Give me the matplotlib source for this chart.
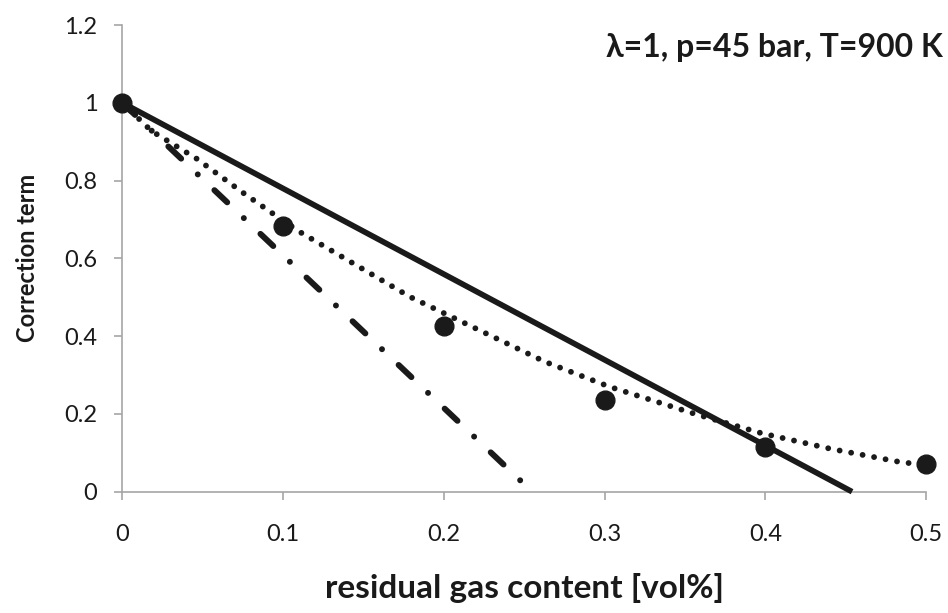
import matplotlib
matplotlib.use("Agg")
import matplotlib.pyplot as plt

plt.rcParams['font.family'] = ['Lato', 'DejaVu Sans']
plt.rcParams['lines.scale_dashes'] = False

# Measured data points
x_points = [0.0, 0.1, 0.2, 0.3, 0.4, 0.5]
y_points = [1.0, 0.684, 0.427, 0.236, 0.116, 0.070]

# Solid straight line (read endpoints)
x_solid = [0.0, 0.454]
y_solid = [1.0, 0.0]

# Dash-dot straight line (read endpoints)
x_dashdot = [0.0, 0.255]
y_dashdot = [1.0, 0.0]

# Dotted trend curve
x_dotted = [0.0, 0.018, 0.046, 0.075, 0.093, 0.110, 0.179, 0.263, 0.303, 0.357, 0.398, 0.441, 0.483, 0.5]
y_dotted = [1.0, 0.928, 0.857, 0.769, 0.717, 0.669, 0.501, 0.334, 0.270, 0.199, 0.150, 0.110, 0.077, 0.068]

x_ticks = [0, 0.1, 0.2, 0.3, 0.4, 0.5]
x_ticklabels = ['0', '0.1', '0.2', '0.3', '0.4', '0.5']
y_ticks = [0, 0.2, 0.4, 0.6, 0.8, 1.0, 1.2]
y_ticklabels = ['0', '0.2', '0.4', '0.6', '0.8', '1', '1.2']

fig = plt.figure(figsize=(9.48, 6.13), dpi=100)
W, H = 948, 613
left, right = 122.3 / W, 926 / W
bottom, top = 1 - 491.7 / H, 1 - 25 / H
ax = fig.add_axes([left, bottom, right - left, top - bottom])

ax.plot(x_dotted, y_dotted, color='#1a1a1a', lw=4.2, linestyle=(0, (0.01, 8.4)),
        dash_capstyle='round', solid_capstyle='round', clip_on=False, zorder=2)
ax.plot(x_dashdot, y_dashdot, color='#1a1a1a', lw=4.3, linestyle=(0, (12.7, 16.5, 0.01, 16.5)),
        dash_capstyle='round', clip_on=False, zorder=2)
ax.plot(x_solid, y_solid, color='#1a1a1a', lw=4.1, solid_capstyle='butt', clip_on=False, zorder=3)
ax.plot(x_points, y_points, 'o', color='#1a1a1a', markersize=13.5, clip_on=False, zorder=4)

ax.set_xlim(0, 0.5)
ax.set_ylim(0, 1.2)
ax.set_xticks(x_ticks)
ax.set_xticklabels(x_ticklabels)
ax.set_yticks(y_ticks)
ax.set_yticklabels(y_ticklabels)

for s in ['top', 'right']:
    ax.spines[s].set_visible(False)
for s in ['left', 'bottom']:
    ax.spines[s].set_color('#a6a6a6')
    ax.spines[s].set_linewidth(1.2)

ax.tick_params(axis='both', direction='out', length=6, width=1.2, color='#a6a6a6',
               labelsize=17, labelcolor='#1a1a1a')
ax.tick_params(axis='x', pad=17)
ax.tick_params(axis='y', pad=12)

fig.text(0.5 * (left + right), 1 - 598 / H, 'residual gas content [vol%]',
         ha='center', va='baseline', fontsize=24, fontweight='bold', color='#1a1a1a')
fig.text(28 / W, 0.5 * (bottom + top), 'Correction term', rotation=90,
         ha='center', va='center', fontsize=17, fontweight='bold', color='#1a1a1a')
fig.text(943 / W, 1 - 57 / H, 'λ=1, p=45 bar, T=900 K', ha='right', va='baseline',
         fontsize=23, fontweight='bold', color='#1a1a1a')

fig.savefig('out.png', dpi=100)
